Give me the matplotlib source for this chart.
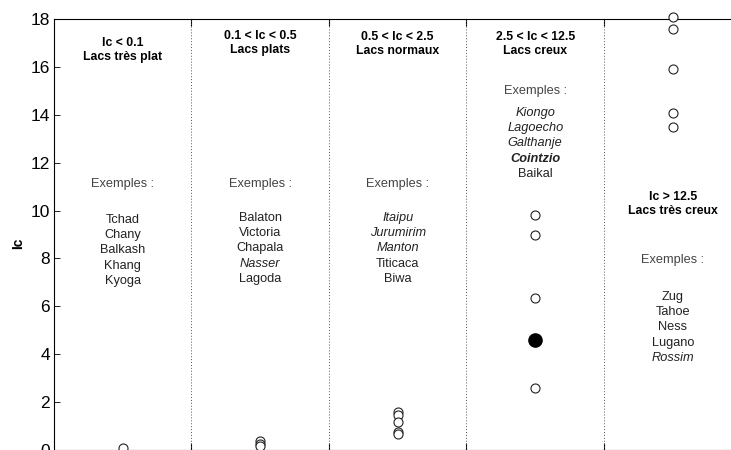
import matplotlib.pyplot as plt

# valeurs de Ic par classe
groupes = [1, 2, 3, 4, 5]
ic_tres_plat = [0.08]
ic_plats = [0.38, 0.27, 0.15]
ic_normaux = [1.57, 1.47, 1.16, 0.77, 0.66]
ic_creux = [9.8, 9.0, 6.35, 2.58]
ic_cointzio = [4.6]
ic_tres_creux = [18.1, 17.57, 15.9, 14.06, 13.5]

titres = ['Ic < 0.1\nLacs très plat', '0.1 < Ic < 0.5\nLacs plats',
          '0.5 < Ic < 2.5\nLacs normaux', '2.5 < Ic < 12.5\nLacs creux',
          'Ic > 12.5\nLacs très creux']
exemples = [
    [('Tchad', 'normal', 'normal'), ('Chany', 'normal', 'normal'), ('Balkash', 'normal', 'normal'),
     ('Khang', 'normal', 'normal'), ('Kyoga', 'normal', 'normal')],
    [('Balaton', 'normal', 'normal'), ('Victoria', 'normal', 'normal'), ('Chapala', 'normal', 'normal'),
     ('Nasser', 'italic', 'normal'), ('Lagoda', 'normal', 'normal')],
    [('Itaipu', 'italic', 'normal'), ('Jurumirim', 'italic', 'normal'), ('Manton', 'italic', 'normal'),
     ('Titicaca', 'normal', 'normal'), ('Biwa', 'normal', 'normal')],
    [('Kiongo', 'italic', 'normal'), ('Lagoecho', 'italic', 'normal'), ('Galthanje', 'italic', 'normal'),
     ('Cointzio', 'italic', 'bold'), ('Baikal', 'normal', 'normal')],
    [('Zug', 'normal', 'normal'), ('Tahoe', 'normal', 'normal'), ('Ness', 'normal', 'normal'),
     ('Lugano', 'normal', 'normal'), ('Rossim', 'italic', 'normal')],
]

plt.rcParams['font.family'] = ['Liberation Sans', 'DejaVu Sans']

fig = plt.figure(figsize=(7.31, 4.5), dpi=100)
ax = fig.add_axes([54 / 731, 0.0, 687.5 / 731, 431 / 450])

# points
ouvert = dict(linestyle='none', marker='o', markersize=6.5, markerfacecolor='white',
              markeredgecolor='#222222', markeredgewidth=0.8, clip_on=False, zorder=3)
ax.plot([groupes[0]] * len(ic_tres_plat), ic_tres_plat, **ouvert)
ax.plot([groupes[1]] * len(ic_plats), ic_plats, **ouvert)
ax.plot([groupes[2]] * len(ic_normaux), ic_normaux, **ouvert)
ax.plot([groupes[3]] * len(ic_creux), ic_creux, **ouvert)
ax.plot([groupes[4]] * len(ic_tres_creux), ic_tres_creux, **ouvert)
ax.plot([groupes[3]] * len(ic_cointzio), ic_cointzio, linestyle='none', marker='o',
        markersize=9.5, color='black', zorder=3)

# separations
for xs in [1.5, 2.5, 3.5, 4.5]:
    ax.axvline(xs, color='#555555', linestyle=(0, (1, 2)), linewidth=0.7)

# textes
def py(p):
    return (450 - p) / 23.94

titre_y = [50, 43, 44, 44, 204]
ex_y = [184, 184, 184, 91, 260]
nom_y0 = [220, 218, 218, 113, 297]
for i, g in enumerate(groupes):
    ax.text(g, py(titre_y[i]), titres[i], ha='center', va='center', fontsize=8.8,
            fontweight='bold', linespacing=1.2)
    ax.text(g, py(ex_y[i]), 'Exemples :', ha='center', va='center', fontsize=9.2,
            color='#444444')
    for j, (nom, style, poids) in enumerate(exemples[i]):
        ax.text(g, py(nom_y0[i] + 15.2 * j), nom, ha='center', va='center', fontsize=9.2,
                color='#222222', style=style, fontweight=poids)

ax.set_xlim(0.5, 5.5)
ax.set_ylim(0, 18)
ax.set_yticks(range(0, 19, 2))
ax.set_xticks([1.5, 2.5, 3.5, 4.5])
ax.set_xticklabels([])
ax.tick_params(axis='y', direction='in', length=4, labelsize=12.5, width=0.6, pad=3)
ax.tick_params(axis='x', direction='in', length=5, top=True, width=0.8)
ax.set_ylabel('Ic', fontsize=10, fontweight='bold')
ax.yaxis.set_label_coords(-0.042, 0.48)
for s in ax.spines.values():
    s.set_linewidth(0.8)

plt.savefig('out.png', dpi=100)
